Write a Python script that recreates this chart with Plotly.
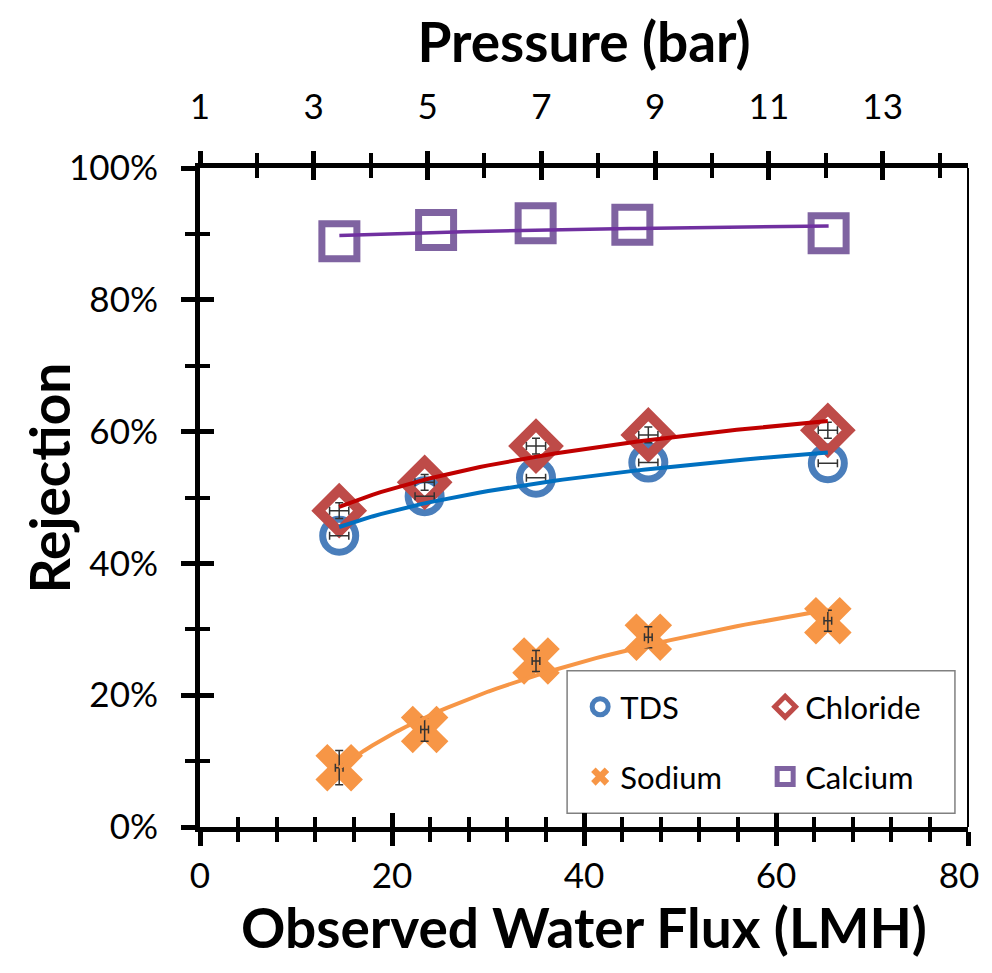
import numpy as np
import plotly.graph_objects as go

# ---------------- data ----------------
flux = [14.5, 23.4, 35.0, 46.7, 65.4]            # Observed water flux (LMH)
pressure_ca = [3.45, 5.15, 6.9, 8.6, 12.05]       # Pressure (bar) for calcium points
tds = [44.2, 50.2, 53.0, 55.3, 55.2]              # Rejection (%)
chloride = [48.0, 52.3, 57.8, 59.5, 60.2]
sodium = [9.0, 14.8, 25.2, 28.8, 31.3]
calcium = [88.9, 90.6, 91.6, 91.4, 90.1]

tds_xerr = [1.0, 1.0, 1.0, 1.0, 1.0]
cl_xerr = [1.0, 1.0, 1.0, 1.0, 1.0]
cl_yerr = [1.2, 1.2, 1.2, 1.2, 1.2]
na_yerr = [2.6, 1.8, 1.6, 1.6, 1.6]
na_xerr = [0.4, 0.4, 0.4, 0.4, 0.4]

x_ticks = [0, 20, 40, 60, 80]
x_ticktext = ["0", "20", "40", "60", "80\u00a0\u00a0"]
p_ticks = [1, 3, 5, 7, 9, 11, 13]
y_ticks = [0, 20, 40, 60, 80, 100]
y_ticktext = ["0%", "20%", "40%", "60%", "80%", "100%"]

FONT = "Lato"
C_TDS, C_CL, C_NA, C_CA = "#4A7EBB", "#BE4B48", "#F79646", "#7F63A1"
L_TDS, L_CL, L_NA, L_CA = "#0070C0", "#C00000", "#F79646", "#7030A0"


def log_trend(x, y):
    b, a = np.polyfit(np.log(x), y, 1)
    xs = np.linspace(min(x), max(x), 60)
    return xs, a + b * np.log(xs)


fig = go.Figure()

# markers
fig.add_trace(go.Scatter(x=flux, y=tds, mode="markers", name="TDS", legend="legend",
                         marker=dict(symbol="circle-open", size=33, color=C_TDS,
                                     line=dict(width=7, color=C_TDS))))
fig.add_trace(go.Scatter(x=flux, y=chloride, mode="markers", name="Chloride", legend="legend",
                         marker=dict(symbol="diamond-open", size=32, color=C_CL,
                                     line=dict(width=10, color=C_CL))))
fig.add_trace(go.Scatter(x=flux, y=sodium, mode="markers", name="Sodium", legend="legend2",
                         marker=dict(symbol="x", size=42, color=C_NA, line=dict(width=0))))
fig.add_trace(go.Scatter(x=pressure_ca, y=calcium, mode="markers", name="Calcium", legend="legend2",
                         xaxis="x2",
                         marker=dict(symbol="square-open", size=35, color=C_CA,
                                     line=dict(width=7, color=C_CA))))

# error bars (drawn on top of markers)
eb = dict(color="#333333", thickness=1.5, width=4)
fig.add_trace(go.Scatter(x=flux, y=tds, mode="markers", showlegend=False, hoverinfo="skip",
                         marker=dict(size=1, opacity=0),
                         error_x=dict(type="data", array=tds_xerr, **eb)))
fig.add_trace(go.Scatter(x=flux, y=chloride, mode="markers", showlegend=False, hoverinfo="skip",
                         marker=dict(size=1, opacity=0),
                         error_x=dict(type="data", array=cl_xerr, **eb),
                         error_y=dict(type="data", array=cl_yerr, **eb)))
fig.add_trace(go.Scatter(x=flux, y=sodium, mode="markers", showlegend=False, hoverinfo="skip",
                         marker=dict(size=1, opacity=0),
                         error_x=dict(type="data", array=na_xerr, **eb),
                         error_y=dict(type="data", array=na_yerr, **eb)))

# logarithmic trendlines
for xv, yv, col, w, ax in [(flux, tds, L_TDS, 4, "x"), (flux, chloride, L_CL, 4, "x"),
                           (flux, sodium, L_NA, 4, "x"), (pressure_ca, calcium, L_CA, 3.5, "x2")]:
    xs, ys = log_trend(xv, yv)
    fig.add_trace(go.Scatter(x=xs, y=ys, mode="lines", showlegend=False, hoverinfo="skip",
                             xaxis=ax, line=dict(color=col, width=w)))

# dummy traces so overlay axes (for crossing ticks) are drawn
fig.add_trace(go.Scatter(x=[None], y=[None], xaxis="x3", yaxis="y2", showlegend=False, hoverinfo="skip"))
fig.add_trace(go.Scatter(x=[None], y=[None], xaxis="x4", yaxis="y2", showlegend=False, hoverinfo="skip"))

tickfont = dict(family=FONT, size=35, color="black")
titlefont = dict(family=FONT, size=55, color="black")

common = dict(showgrid=False, zeroline=False, linecolor="black", tickcolor="black", tickwidth=5,
              automargin=False)

fig.update_layout(
    width=976, height=952,
    margin=dict(l=192, r=16, t=160, b=133),
    paper_bgcolor="white", plot_bgcolor="white",
    xaxis=dict(range=[0, 80], tickvals=x_ticks, ticktext=x_ticktext, ticks="outside", ticklen=14,
               showline=True, linewidth=5, tickfont=tickfont, ticklabeloverflow="allow",
               minor=dict(dtick=4, tick0=0, ticks="outside", ticklen=10, tickwidth=4, tickcolor="black"),
               title=dict(text="<b>Observed Water Flux (LMH)</b>", font=titlefont, standoff=16),
               **common),
    xaxis3=dict(range=[0, 80], overlaying="x", anchor="y", side="bottom", tickvals=x_ticks,
                ticks="inside", ticklen=14, showticklabels=False, showline=False,
                minor=dict(dtick=4, tick0=0, ticks="inside", ticklen=10, tickwidth=4, tickcolor="black"),
                **common),
    xaxis2=dict(range=[1, 14.5], overlaying="x", anchor="y", side="top", tickvals=p_ticks,
                ticks="outside", ticklen=12, showline=True, linewidth=5, tickfont=tickfont,
                ticklabelstandoff=18,
                minor=dict(dtick=1, tick0=1, ticks="outside", ticklen=10, tickwidth=4, tickcolor="black"),
                title=dict(text="<b>Pressure (bar)</b>", font=titlefont, standoff=20),
                **common),
    xaxis4=dict(range=[1, 14.5], overlaying="x", anchor="y", side="top", tickvals=p_ticks,
                ticks="inside", ticklen=12, showticklabels=False, showline=False,
                minor=dict(dtick=1, tick0=1, ticks="inside", ticklen=10, tickwidth=4, tickcolor="black"),
                **common),
    yaxis=dict(range=[0, 100], tickvals=y_ticks, ticktext=y_ticktext, ticks="outside", ticklen=14,
               showline=True, linewidth=5, tickfont=tickfont, ticklabelstandoff=16,
               minor=dict(dtick=10, tick0=0, ticks="outside", ticklen=10, tickwidth=4, tickcolor="black"),
               **common),
    yaxis2=dict(range=[0, 100], overlaying="y", anchor="x", side="left", tickvals=y_ticks,
                ticks="inside", ticklen=14, showticklabels=False, showline=False,
                minor=dict(dtick=10, tick0=0, ticks="inside", ticklen=10, tickwidth=4, tickcolor="black"),
                **common),
    legend=dict(orientation="h", x=0.495, y=0.182, xanchor="left", yanchor="middle",
                bgcolor="rgba(0,0,0,0)", borderwidth=0, font=dict(family=FONT, size=31, color="black"),
                entrywidth=140, itemsizing="trace"),
    legend2=dict(orientation="h", x=0.495, y=0.076, xanchor="left", yanchor="middle",
                 bgcolor="rgba(0,0,0,0)", borderwidth=0, font=dict(family=FONT, size=31, color="black"),
                 entrywidth=140, itemsizing="trace"),
    annotations=[
        dict(text="<b>Rejection</b>", xref="paper", yref="paper", x=-0.197, y=0.53,
             xanchor="center", yanchor="middle", textangle=-90, showarrow=False, font=titlefont),
    ],
    shapes=[
        dict(type="rect", xref="paper", yref="paper", x0=0.478, x1=0.983, y0=0.021, y1=0.237,
             line=dict(color="#808080", width=1.5), fillcolor="white", layer="below"),
        dict(type="line", xref="paper", yref="paper", x0=1, x1=1, y0=0, y1=1,
             line=dict(color="black", width=2)),
    ],
)

fig.write_html("out.html")
